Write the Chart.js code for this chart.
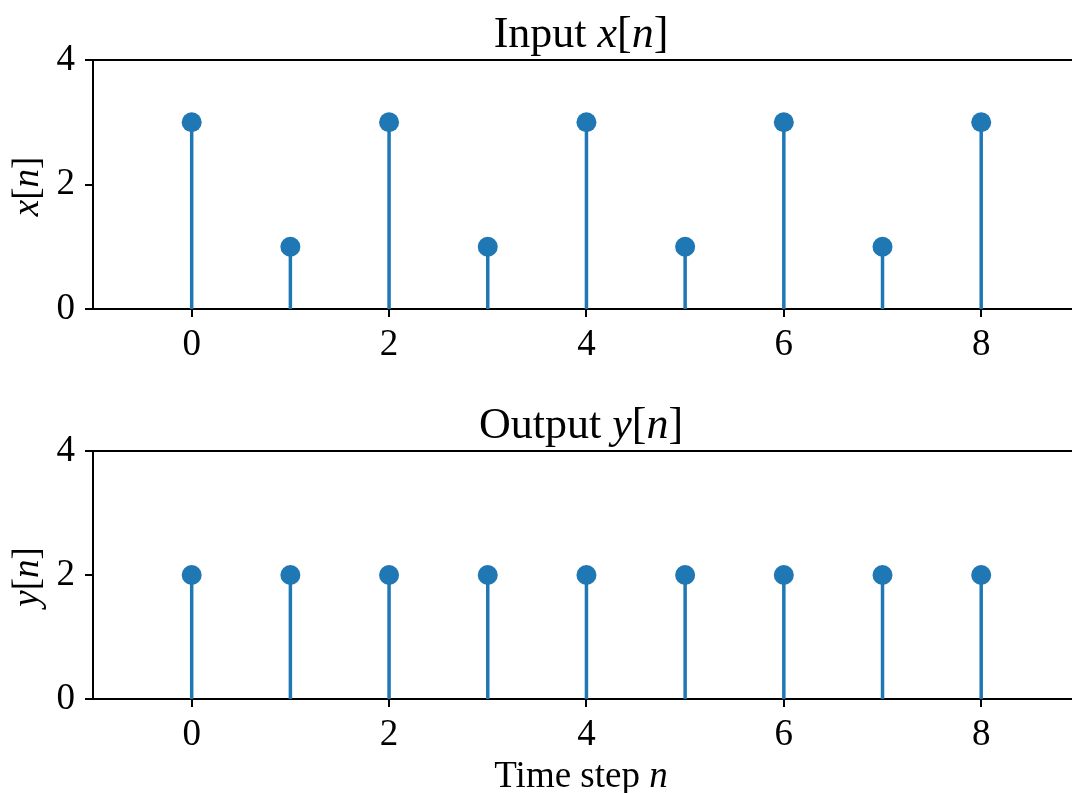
<!DOCTYPE html>
<html>
<head>
<meta charset="utf-8">
<script src="https://cdn.jsdelivr.net/npm/chart.js@4"></script>
<style>
  html, body { margin: 0; padding: 0; background: #fff; overflow: hidden; }
  #wrap { position: relative; width: 1072px; height: 793px; }
  canvas { position: absolute; left: 0; }
</style>
</head>
<body>
<div id="wrap">
  <canvas id="top" width="1072" height="390" style="top:0"></canvas>
  <canvas id="bot" width="1072" height="403" style="top:390px"></canvas>
</div>
<script>
// ---- data ----
const steps = [0, 1, 2, 3, 4, 5, 6, 7, 8];
const inputValues = [3, 1, 3, 1, 3, 1, 3, 1, 3];
const outputValues = [2, 2, 2, 2, 2, 2, 2, 2, 2];
const xTickValues = [0, 2, 4, 6, 8];
const yTickValues = [0, 2, 4];
const inputTitle = [['Input ', false], ['x', true], ['[', false], ['n', true], [']', false]];
const outputTitle = [['Output ', false], ['y', true], ['[', false], ['n', true], [']', false]];
const inputYLabel = [['x', true], ['[', false], ['n', true], [']', false]];
const outputYLabel = [['y', true], ['[', false], ['n', true], [']', false]];
const xLabel = [['Time step ', false], ['n', true]];

const BLUE = '#1f77b4';
const FAMILY = '"Liberation Serif", "DejaVu Serif", serif';
const TICK_PX = 37;
const TITLE_PX = 44;

function richWidth(ctx, segs, px) {
  let w = 0;
  for (const [t, it] of segs) {
    ctx.font = (it ? 'italic ' : '') + px + 'px ' + FAMILY;
    w += ctx.measureText(t).width;
  }
  return w;
}
function drawRich(ctx, segs, px, cx, baseY, rotate) {
  ctx.save();
  ctx.translate(cx, baseY);
  if (rotate) ctx.rotate(-Math.PI / 2);
  const w = richWidth(ctx, segs, px);
  let x = -w / 2;
  ctx.fillStyle = '#000';
  ctx.textBaseline = 'alphabetic';
  ctx.textAlign = 'left';
  for (const [t, it] of segs) {
    ctx.font = (it ? 'italic ' : '') + px + 'px ' + FAMILY;
    ctx.fillText(t, x, 0);
    x += ctx.measureText(t).width;
  }
  ctx.restore();
}

function makeChart(canvasId, values, title, ylabel, xlabel, axisHeight, topPad) {
  const stemSets = steps.map((s, i) => ({
    data: [{ x: s, y: 0 }, { x: s, y: values[i] }],
    showLine: true,
    borderColor: BLUE,
    borderWidth: 3.5,
    pointRadius: 0,
    pointHoverRadius: 0
  }));
  const markerSet = {
    data: steps.map((s, i) => ({ x: s, y: values[i] })),
    showLine: false,
    pointRadius: 10,
    pointHoverRadius: 10,
    pointBackgroundColor: BLUE,
    pointBorderWidth: 0,
    borderColor: BLUE
  };
  const labelsPlugin = {
    id: 'labels_' + canvasId,
    afterDraw(chart) {
      const ctx = chart.ctx;
      const a = chart.chartArea;
      ctx.save();
      ctx.strokeStyle = '#000';
      ctx.lineWidth = 2;
      ctx.beginPath();
      ctx.moveTo(a.left - 1, a.top);
      ctx.lineTo(a.right, a.top);
      ctx.stroke();
      ctx.restore();
      const cx = 581;
      drawRich(ctx, title, TITLE_PX, cx, a.top - 13, false);
      drawRich(ctx, ylabel, TICK_PX, 38, (a.top + a.bottom) / 2 + 2, true);
      if (xlabel) drawRich(ctx, xlabel, TICK_PX, cx, a.bottom + 88, false);
    }
  };
  return new Chart(document.getElementById(canvasId), {
    type: 'scatter',
    data: { datasets: [markerSet, ...stemSets] },
    options: {
      responsive: false,
      animation: false,
      devicePixelRatio: 1,
      layout: { autoPadding: false, padding: { top: topPad, left: 0, right: 0, bottom: 0 } },
      plugins: { legend: { display: false }, tooltip: { enabled: false }, title: { display: false } },
      scales: {
        x: {
          type: 'linear',
          min: -1,
          max: 8.92,
          afterBuildTicks(scale) { scale.ticks = xTickValues.map(v => ({ value: v })); },
          afterFit(scale) { scale.height = axisHeight; scale.paddingLeft = 0; scale.paddingRight = 0; },
          grid: { drawOnChartArea: false, drawTicks: true, tickLength: 8, tickColor: '#000', lineWidth: 2 },
          border: { display: true, color: '#000', width: 2 },
          ticks: { color: '#000', font: { family: FAMILY, size: TICK_PX }, padding: 6, maxRotation: 0, autoSkip: false }
        },
        y: {
          type: 'linear',
          min: 0,
          max: 4,
          afterBuildTicks(scale) { scale.ticks = yTickValues.map(v => ({ value: v })); },
          afterFit(scale) { scale.width = 93; scale.paddingTop = 0; scale.paddingBottom = 0; },
          grid: { drawOnChartArea: false, drawTicks: true, tickLength: 8, tickColor: '#000', lineWidth: 2 },
          border: { display: true, color: '#000', width: 2 },
          ticks: { color: '#000', font: { family: FAMILY, size: TICK_PX }, padding: 10 }
        }
      }
    },
    plugins: [labelsPlugin]
  });
}

makeChart('top', inputValues, inputTitle, inputYLabel, null, 81, 60);
makeChart('bot', outputValues, outputTitle, outputYLabel, xLabel, 94, 61);
</script>
</body>
</html>
